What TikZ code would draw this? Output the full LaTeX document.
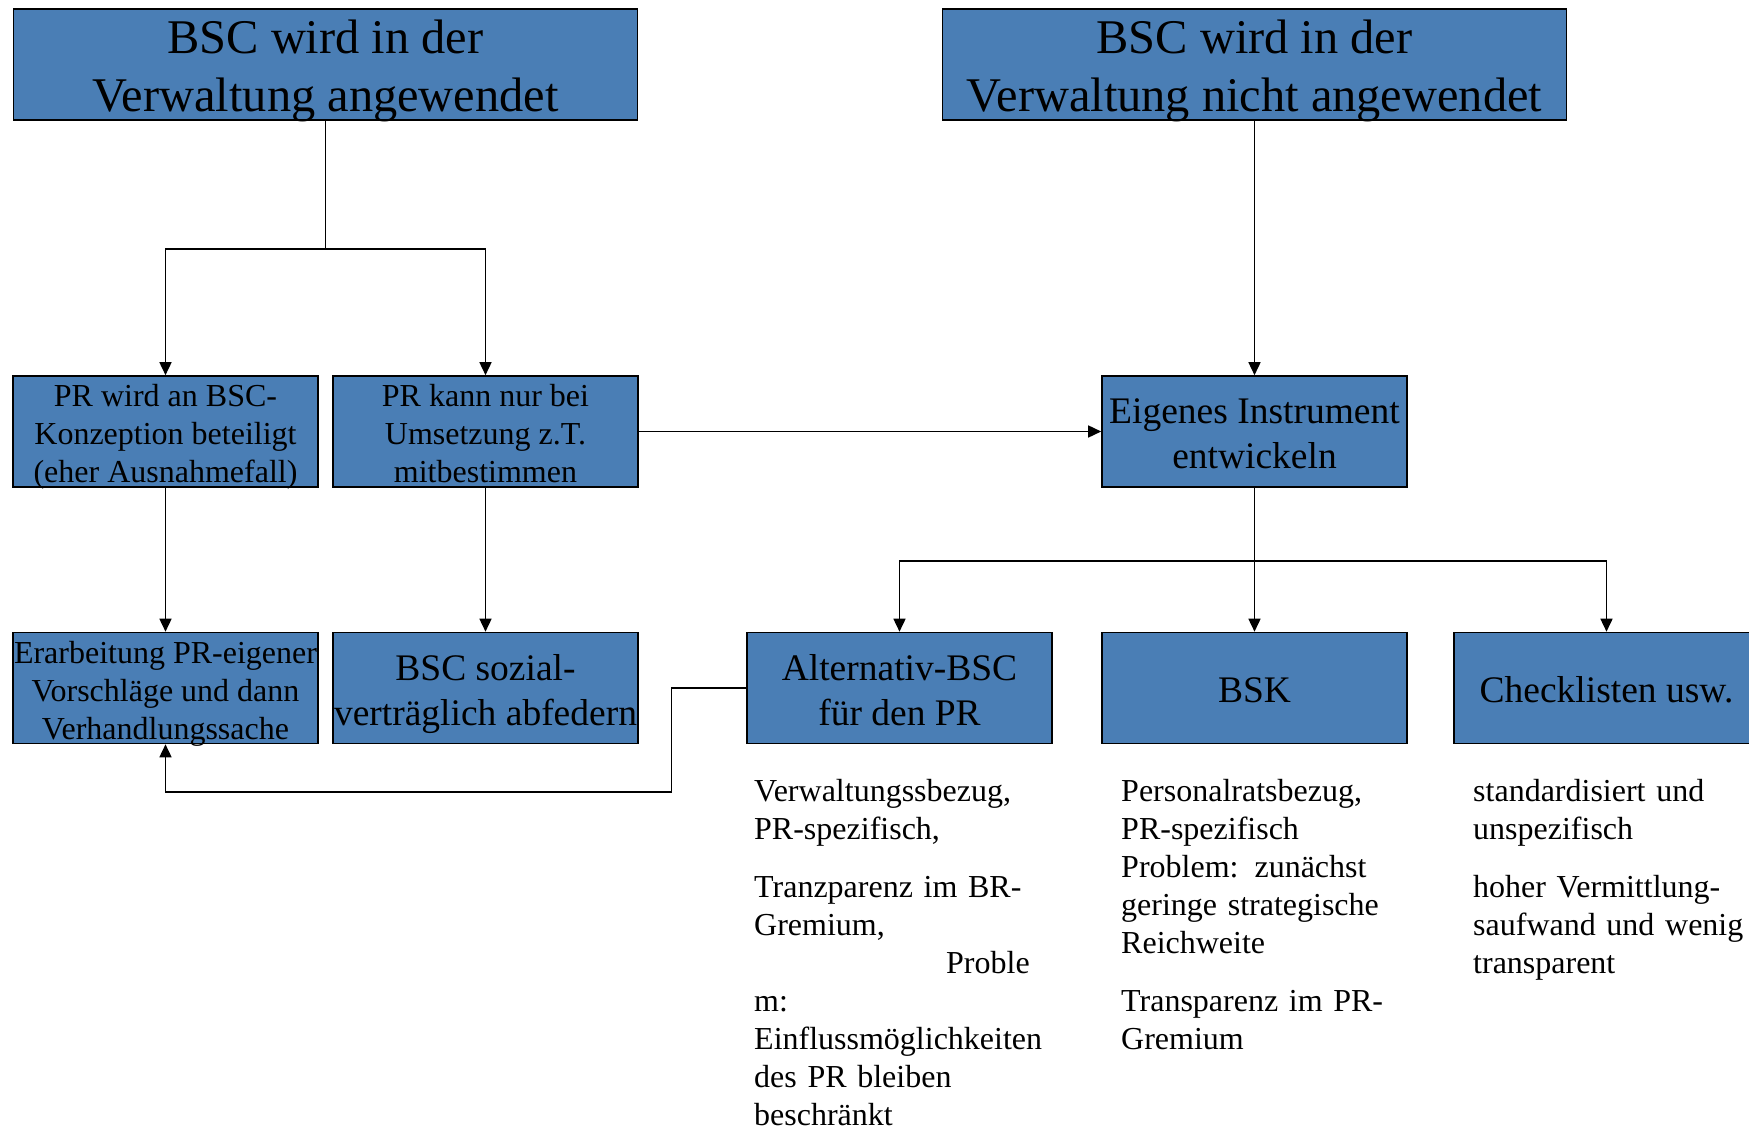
\documentclass[tikz,border=0pt]{standalone}
\usepackage{fontspec}
\setmainfont{Liberation Serif}
\usepackage{tikz}
\usetikzlibrary{arrows.meta}
\definecolor{boxblue}{RGB}{74,126,181}
\tikzstyle{block} = [draw,rectangle,fill=boxblue,line width=1.6pt,minimum width=305pt,minimum height=111pt,inner sep=0pt,align=center,text depth=0pt]
\tikzstyle{bigblock} = [block,minimum width=624pt,font=\fontsize{48.4}{58}\selectfont,text height=95pt]
\tikzstyle{smalltext} = [font=\fontsize{32}{38}\selectfont,text height=102pt]
\tikzstyle{midtext} = [font=\fontsize{37.5}{44.6}\selectfont,text height=74pt]
\tikzstyle{oneline} = [text height=29.6pt]
\tikzstyle{note} = [font=\fontsize{32}{38}\selectfont,align=left,anchor=north west,inner sep=0pt,text width=320pt]
\tikzstyle{line} = [draw,line width=1.6pt]
\tikzstyle{arrowLine} = [draw,line width=1.6pt,-{Triangle[length=13pt,width=12pt]}]

\begin{document}
\begin{tikzpicture}[x=1pt,y=1pt]
		\useasboundingbox (0,0) rectangle (1749,-1131);
		\node[bigblock](applied) at (325.5,-64.5){BSC wird in der\\Verwaltung angewendet};
		\node[bigblock](notApplied) at (1254.5,-64.5){BSC wird in der\\Verwaltung nicht angewendet};
		\node[block,smalltext,below of=applied,node distance=367pt,xshift=-160pt](prBeteiligt){PR wird an BSC-\\Konzeption beteiligt\\(eher Ausnahmefall)};
		\node[block,smalltext,right of=prBeteiligt,node distance=320pt](prUmsetzung){PR kann nur bei\\Umsetzung z.T.\\mitbestimmen};
		\node[block,midtext,below of=notApplied,node distance=367pt](eigenes){Eigenes Instrument\\entwickeln};
		\node[block,smalltext,below of=prBeteiligt,node distance=256.5pt](erarbeitung){Erarbeitung PR-eigener\\Vorschläge und dann\\Verhandlungssache};
		\node[block,midtext,below of=prUmsetzung,node distance=256.5pt](sozial){BSC sozial-\\verträglich abfedern};
		\node[block,midtext,oneline,below of=eigenes,node distance=256.5pt](bsk){BSK};
		\node[block,midtext,left of=bsk,node distance=355pt](alternativ){Alternativ-BSC\\für den PR};
		\node[block,midtext,oneline,right of=bsk,node distance=352pt](checklisten){Checklisten usw.};
		%notes
		\node[note](altNote) at (754,-779){Verwaltungssbezug,\\PR-spezifisch,\\[20pt]Tranzparenz im BR-\\Gremium,\\\hspace*{192pt}Proble\\m:\\Einflussmöglichkeiten\\des PR bleiben\\beschränkt};
		\node[note](bskNote) at (1121,-779){Personalratsbezug,\\PR-spezifisch\\Problem: zunächst\\geringe strategische\\Reichweite\\[20pt]Transparenz im PR-\\Gremium};
		\node[note](checkNote) at (1473,-779){standardisiert und\\unspezifisch\\[20pt]hoher Vermittlung-\\saufwand und wenig\\transparent};
		%arrows
		\path[line](applied.south)--++(0,-128) coordinate(splitA);
		\path[arrowLine](splitA)-|(prBeteiligt.north);
		\path[arrowLine](splitA)-|(prUmsetzung.north);
		\path[arrowLine](notApplied)--(eigenes);
		\path[arrowLine](prUmsetzung)--(eigenes);
		\path[arrowLine](prBeteiligt)--(erarbeitung);
		\path[arrowLine](prUmsetzung)--(sozial);
		\path[line](eigenes.south)--++(0,-73) coordinate(splitE);
		\path[arrowLine](splitE)-|(alternativ.north);
		\path[arrowLine](splitE)-|(checklisten.north);
		\path[arrowLine](eigenes)--(bsk);
		\coordinate(bendA) at (671.5,-792);
		\path[arrowLine](alternativ.west)-|(bendA)-|(erarbeitung.south);
	\end{tikzpicture}
\end{document}
